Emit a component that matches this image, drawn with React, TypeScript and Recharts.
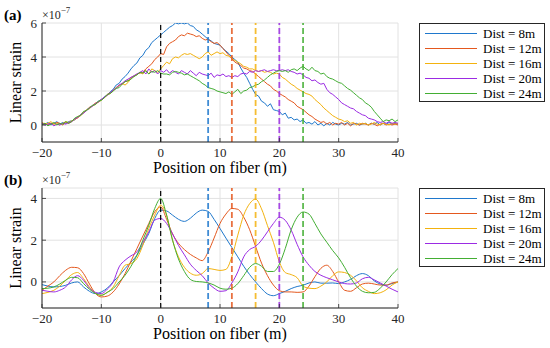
import React from "react";
import { LineChart, Line, XAxis, YAxis, CartesianGrid, ReferenceLine, Legend, Label } from "recharts";

// Strain profiles along the fiber for five load positions.
// (a) measured (noisy) profiles, (b) reconstructed profiles. Values in units of 1e-7.

const FONT = '"Liberation Serif", "Times New Roman", serif';
const AX = "#262626";
const GRID = "#e2e2e2";

const SERIES_NAMES = ["Dist = 8m", "Dist = 12m", "Dist = 16m", "Dist = 20m", "Dist = 24m"];
const SERIES_KEYS = ["d8", "d12", "d16", "d20", "d24"];
const SERIES_COLORS = ["#1f78cc", "#e4581e", "#f3b20e", "#9b2be3", "#43ae33"];
const DIST_MARKS = [8, 12, 16, 20, 24];
const X_TICKS = [-20, -10, 0, 10, 20, 30, 40];
const Y_TICKS_A = [0, 2, 4, 6];
const Y_TICKS_B = [0, 2, 4];

// (a) sampled every 0.5 m from -20 m
const TOP_START = -20;
const TOP_STEP = 0.5;
const topD8 = [
  0.1, 0.05, 0.15, 0.0, 0.1, 0.2, 0.05, 0.15, 0.1, 0.2,
  0.25, 0.3, 0.45, 0.6, 0.7, 0.9, 1.0, 1.15, 1.25, 1.4,
  1.5, 1.65, 1.75, 1.95, 2.1, 2.35, 2.45, 2.7, 2.85, 3.05,
  3.3, 3.5, 3.65, 3.95, 4.1, 4.4, 4.55, 4.85, 5.0, 5.15,
  5.3, 5.45, 5.6, 5.75, 5.85, 6.0, 5.95, 6.0, 5.95, 6.0,
  5.85, 5.8, 5.6, 5.5, 5.35, 5.2, 5.05, 4.95, 4.8, 4.75,
  4.7, 4.5, 4.35, 4.2, 4.0, 3.85, 3.7, 3.35, 3.05, 2.8,
  2.45, 2.1, 1.8, 1.7, 1.4, 1.3, 1.1, 1.25, 0.9, 0.85,
  0.8, 0.6, 0.7, 0.4, 0.45, 0.3, 0.35, 0.2, 0.3, 0.1,
  0.15, 0.05, 0.2, 0.0, 0.1, -0.05, 0.1, 0.0, 0.15, 0.05,
  0.0, 0.1, 0.05, 0.15, 0.0, 0.05, 0.1, 0.0, 0.05, 0.1,
  0.0, 0.1, 0.05, 0.15, 0.0, 0.1, 0.05, 0.15, 0.05, 0.1,
  0.05,
];
const topD12 = [
  0.05, 0.1, 0.0, 0.1, 0.05, 0.15, 0.1, 0.0, 0.15, 0.1,
  0.2, 0.35, 0.4, 0.6, 0.75, 0.85, 1.05, 1.1, 1.3, 1.35,
  1.5, 1.6, 1.8, 1.9, 2.05, 2.2, 2.35, 2.4, 2.55, 2.6,
  2.8, 2.85, 3.0, 3.05, 3.1, 3.3, 3.45, 3.6, 3.85, 4.0,
  4.2, 4.15, 4.6, 4.8, 4.9, 5.0, 5.2, 5.3, 5.25, 5.4,
  5.35, 5.3, 5.2, 5.25, 5.1, 5.0, 5.05, 4.9, 4.8, 4.85,
  4.7, 4.5, 4.3, 4.1, 3.9, 3.7, 3.6, 3.5, 3.35, 3.3,
  3.2, 3.15, 3.0, 2.85, 2.7, 2.55, 2.4, 2.3, 2.1, 2.0,
  1.85, 1.75, 1.65, 1.5, 1.4, 1.3, 1.1, 1.0, 0.9, 0.75,
  0.6, 0.5, 0.35, 0.25, 0.15, 0.2, 0.05, 0.15, 0.0, 0.1,
  0.05, 0.15, 0.0, 0.1, -0.05, 0.1, 0.05, 0.0, 0.1, 0.05,
  0.0, 0.1, 0.05, -0.05, 0.05, 0.1, 0.0, 0.05, 0.0, 0.05,
  0.0,
];
const topD16 = [
  0.15, 0.05, 0.1, 0.2, 0.05, 0.1, 0.0, 0.1, 0.2, 0.15,
  0.25, 0.3, 0.5, 0.55, 0.7, 0.9, 0.95, 1.15, 1.2, 1.35,
  1.45, 1.6, 1.75, 1.85, 2.0, 2.2, 2.3, 2.45, 2.35, 2.5,
  2.75, 2.9, 2.95, 3.1, 3.0, 3.2, 3.0, 3.3, 3.2, 3.1,
  3.3, 3.5, 3.7, 3.6, 3.9, 4.0, 3.95, 4.1, 4.2, 4.15,
  4.2, 4.1, 4.0, 3.9, 4.0, 4.2, 4.3, 4.1, 4.2, 4.3,
  4.2, 4.25, 4.1, 4.05, 3.9, 3.8, 3.7, 3.6, 3.45, 3.4,
  3.3, 3.3, 3.2, 3.15, 3.2, 3.1, 3.15, 3.1, 3.0, 3.05,
  3.0, 2.8, 2.7, 2.55, 2.4, 2.3, 2.15, 2.05, 1.95, 1.85,
  1.8, 1.7, 1.5, 1.35, 1.2, 1.0, 0.85, 0.7, 0.55, 0.45,
  0.35, 0.3, 0.2, 0.25, 0.1, 0.15, 0.0, 0.1, 0.05, 0.1,
  0.0, 0.05, 0.15, 0.05, 0.0, 0.1, 0.05, 0.0, 0.1, 0.05,
  0.1,
];
const topD20 = [
  0.1, 0.0, 0.05, 0.1, -0.05, 0.05, 0.0, 0.1, 0.05, 0.15,
  0.2, 0.35, 0.45, 0.6, 0.7, 0.85, 1.0, 1.1, 1.25, 1.35,
  1.5, 1.65, 1.75, 1.9, 2.05, 2.15, 2.35, 2.45, 2.6, 2.7,
  2.8, 2.9, 3.0, 3.1, 3.2, 3.0, 3.3, 3.1, 3.2, 3.0,
  3.2, 3.1, 3.25, 3.05, 3.2, 3.1, 3.0, 3.2, 3.1, 3.0,
  3.2, 3.05, 2.9, 3.1, 3.0, 2.95, 2.9, 3.05, 2.8, 2.95,
  2.9, 3.0, 2.85, 2.9, 2.8, 2.9, 2.85, 3.0, 3.05, 3.0,
  3.15, 3.1, 3.2, 3.15, 3.2, 3.25, 3.15, 3.2, 3.25, 3.2,
  3.2, 3.25, 3.2, 3.25, 3.15, 3.1, 3.0, 3.05, 2.95, 2.8,
  2.75, 2.6, 2.65, 2.5, 2.4, 2.45, 2.1, 1.9, 1.8, 1.65,
  1.5, 1.3, 1.2, 1.1, 1.0, 0.95, 0.8, 0.7, 0.6, 0.55,
  0.4, 0.35, 0.3, 0.2, 0.15, 0.2, 0.1, 0.2, 0.1, 0.15,
  0.1,
];
const topD24 = [
  0.0, 0.1, -0.05, 0.05, 0.15, 0.0, 0.1, 0.05, 0.2, 0.1,
  0.2, 0.4, 0.5, 0.55, 0.8, 0.85, 1.0, 1.15, 1.2, 1.4,
  1.45, 1.6, 1.8, 1.85, 2.0, 2.15, 2.2, 2.4, 2.55, 2.6,
  2.7, 2.85, 2.95, 3.1, 3.05, 3.2, 3.0, 3.15, 3.1, 3.2,
  3.05, 3.0, 3.0, 2.95, 3.1, 3.15, 3.1, 3.05, 2.95, 3.0,
  2.9, 2.8, 2.7, 2.6, 2.45, 2.35, 2.2, 2.15, 2.1, 2.0,
  1.95, 1.9, 1.85, 1.95, 1.8, 1.95, 2.1, 1.85, 2.0, 2.05,
  2.2, 2.25, 2.35, 2.4, 2.55, 2.65, 2.8, 2.95, 3.05, 3.15,
  3.2, 3.15, 3.2, 3.1, 3.25, 3.3, 3.2, 3.35, 3.45, 3.3,
  3.2, 3.4, 3.2, 3.15, 3.0, 3.05, 2.85, 2.75, 2.7, 2.6,
  2.5, 2.45, 2.3, 2.15, 2.05, 1.9, 1.75, 1.6, 1.5, 1.3,
  1.2, 1.05, 0.8, 0.6, 0.4, 0.2, 0.3, 0.25, 0.35, 0.2,
  0.3,
];

// (b) sampled every 1 m from -20 m
const BOT_START = -20;
const BOT_STEP = 1;
const botD8 = [
  -0.13, -0.2, -0.24, -0.22, -0.16, -0.05, 0.0, -0.24, -0.45, -0.56,
  -0.48, -0.3, 0.0, 0.3, 0.64, 0.95, 1.28, 1.8, 2.32, 3.04,
  3.44, 3.4, 3.2, 3.0, 2.9, 3.05, 3.3, 3.44, 3.38, 3.0,
  2.56, 2.1, 1.65, 1.2, 0.75, 0.35, 0.0, -0.32, -0.58, -0.66,
  -0.56, -0.45, -0.32, -0.22, -0.16, -0.05, 0.0, -0.06, -0.06, -0.05,
  -0.08, 0.0, 0.12, 0.3, 0.4, 0.3, 0.05, -0.1, -0.16, -0.08,
  0.0,
];
const botD12 = [
  -0.4, -0.2, 0.0, 0.3, 0.56, 0.7, 0.68, 0.4, -0.1, -0.55,
  -0.72, -0.68, -0.48, -0.1, 0.4, 1.0, 1.6, 2.2, 2.8, 3.36,
  3.6, 3.0, 2.3, 1.85, 1.55, 1.32, 1.15, 1.02, 1.44, 2.1,
  2.8, 3.25, 3.52, 3.48, 3.1, 2.5, 1.7, 0.9, 0.3, -0.15,
  -0.42, -0.48, -0.48, -0.5, -0.48, -0.2, 0.25, 0.65, 0.8, 0.5,
  0.0, -0.4, -0.45, -0.28, -0.1, -0.06, -0.1, -0.15, -0.15, -0.05,
  0.0,
];
const botD16 = [
  -0.56, -0.5, -0.4, -0.2, 0.08, 0.35, 0.45, 0.16, -0.25, -0.55,
  -0.64, -0.5, -0.24, 0.3, 0.8, 0.88, 1.12, 1.76, 2.56, 3.2,
  3.68, 3.2, 2.0, 1.2, 0.7, 0.42, 0.32, 0.4, 0.64, 0.6,
  0.55, 0.6, 1.2, 2.24, 3.2, 3.75, 3.97, 3.5, 2.7, 1.9,
  0.96, 0.45, 0.35, 0.2, -0.2, -0.3, -0.32, -0.2, 0.0, 0.3,
  0.48, 0.45, 0.32, 0.05, -0.28, -0.45, -0.56, -0.52, -0.38, -0.15,
  0.0,
];
const botD20 = [
  -0.4, -0.45, -0.48, -0.4, -0.24, 0.1, 0.3, 0.08, -0.3, -0.5,
  -0.56, -0.35, 0.0, 0.72, 1.04, 1.25, 1.44, 1.9, 2.4, 2.96,
  3.04, 2.8, 2.3, 1.75, 1.3, 0.85, 0.55, 0.3, -0.05, -0.3,
  -0.45, -0.42, -0.05, 0.48, 1.2, 1.55, 1.7, 2.0, 2.4, 2.8,
  3.1, 2.95, 2.48, 1.8, 1.2, 0.8, 0.5, 0.32, 0.2, 0.1,
  0.0, -0.08, -0.1, -0.05, 0.15, 0.22, 0.1, -0.05, -0.2, -0.35,
  -0.48,
];
const botD24 = [
  -0.32, -0.3, -0.24, -0.1, 0.08, 0.22, 0.2, -0.08, -0.35, -0.55,
  -0.64, -0.5, -0.32, 0.0, 0.32, 0.75, 1.28, 2.0, 2.72, 3.52,
  4.0, 3.2, 2.0, 1.1, 0.5, 0.12, 0.02, 0.0, -0.05, -0.15,
  -0.3, -0.35, -0.3, -0.08, 0.3, 0.7, 0.88, 0.75, 0.5, 0.5,
  0.85, 1.6, 2.5, 3.1, 3.35, 3.25, 2.8, 2.3, 1.9, 1.5,
  1.15, 0.7, 0.2, -0.2, -0.45, -0.52, -0.5, -0.3, 0.0, 0.35,
  0.64,
];

function buildRows(start: number, step: number, series: number[][]) {
  return series[0].map((_, i) => {
    const row: Record<string, number> = { pos: start + i * step };
    SERIES_KEYS.forEach((k, s) => {
      row[k] = series[s][i];
    });
    return row;
  });
}

const topData = buildRows(TOP_START, TOP_STEP, [topD8, topD12, topD16, topD20, topD24]);
const botData = buildRows(BOT_START, BOT_STEP, [botD8, botD12, botD16, botD20, botD24]);

const fmtTick = (v: number) => (v < 0 ? `\u2212${Math.abs(v)}` : `${v}`);

function BottomTick({ x, y, payload }: any) {
  return (
    <g>
      <line x1={x} x2={x} y1={y} y2={y - 4} stroke={AX} strokeWidth={0.8} />
      <text x={x} y={y + 15} textAnchor="middle" fontSize={13} fill={AX} fontFamily={FONT}>
        {fmtTick(payload.value)}
      </text>
    </g>
  );
}

function TopTick({ x, y }: any) {
  return <line x1={x} x2={x} y1={y} y2={y + 4} stroke={AX} strokeWidth={0.8} />;
}

function LeftTick({ x, y, payload }: any) {
  return (
    <g>
      <line x1={x} x2={x + 4} y1={y} y2={y} stroke={AX} strokeWidth={0.8} />
      <text x={x - 5} y={y + 4.5} textAnchor="end" fontSize={13} fill={AX} fontFamily={FONT}>
        {fmtTick(payload.value)}
      </text>
    </g>
  );
}

function RightTick({ x, y }: any) {
  return <line x1={x} x2={x - 4} y1={y} y2={y} stroke={AX} strokeWidth={0.8} />;
}

function LegendBox({ payload }: any) {
  const items = [...(payload ?? [])].sort(
    (a: any, b: any) => SERIES_NAMES.indexOf(a.value) - SERIES_NAMES.indexOf(b.value)
  );
  return (
    <div
      style={{
        border: `1px solid ${AX}`,
        background: "#fff",
        width: 126,
        height: 79,
        boxSizing: "border-box",
        padding: "2px 0",
        fontFamily: FONT,
        fontSize: 13,
        color: "#000",
      }}
    >
      {items.map((p: any) => (
        <div key={p.value} style={{ display: "flex", alignItems: "center", height: 15 }}>
          <svg width={63} height={15} style={{ flex: "none" }}>
            <line x1={5} x2={57} y1={7.5} y2={7.5} stroke={p.color} strokeWidth={1.2} />
          </svg>
          <span style={{ whiteSpace: "nowrap", lineHeight: "15px" }}>{p.value}</span>
        </div>
      ))}
    </div>
  );
}

interface PanelProps {
  data: Record<string, number>[];
  tag: string;
  yDomain: [number, number];
  yTicks: number[];
  top: number;
  height: number;
  marginTop: number;
  marginBottom: number;
  curve: "linear" | "monotone";
}

function Panel({ data, tag, yDomain, yTicks, top, height, marginTop, marginBottom, curve }: PanelProps) {
  const yTitle = (props: any) => {
    const { x, y, width: w, height: h } = props.viewBox;
    const cx = 15;
    const cy = y + h / 2;
    return (
      <g fontFamily={FONT}>
        <text
          x={cx}
          y={cy}
          transform={`rotate(-90 ${cx} ${cy})`}
          textAnchor="middle"
          dominantBaseline="central"
          fontSize={16}
          fill="#000"
        >
          Linear strain
        </text>
        <text x={4} y={y - 3} fontSize={15} fontWeight="bold" fill="#000">
          {tag}
        </text>
        <text x={x + w} y={y - 4} fontSize={12} fill={AX}>
          ×10
          <tspan dy={-6} fontSize={9}>
            −7
          </tspan>
        </text>
      </g>
    );
  };

  const xTitle = (props: any) => {
    const { x, y, width: w } = props.viewBox;
    return (
      <text x={x + w / 2} y={y + 31} textAnchor="middle" fontSize={16} fill="#000" fontFamily={FONT}>
        Position on fiber (m)
      </text>
    );
  };

  return (
    <div style={{ position: "absolute", left: 0, top }}>
      <LineChart
        width={550}
        height={height}
        data={data}
        margin={{ top: marginTop, right: 152, bottom: marginBottom, left: 12 }}
      >
        <CartesianGrid stroke={GRID} strokeWidth={1} />
        <XAxis
          dataKey="pos"
          type="number"
          domain={[-20, 40]}
          ticks={X_TICKS}
          interval={0}
          allowDataOverflow
          height={20}
          tickSize={0}
          tickMargin={0}
          tickLine={false}
          tick={<BottomTick />}
          stroke={AX}
        >
          <Label content={xTitle} />
        </XAxis>
        <XAxis
          xAxisId="top"
          orientation="top"
          dataKey="pos"
          type="number"
          domain={[-20, 40]}
          ticks={X_TICKS}
          interval={0}
          allowDataOverflow
          height={0}
          tickSize={0}
          tickMargin={0}
          tickLine={false}
          tick={<TopTick />}
          stroke={AX}
        />
        <YAxis
          type="number"
          domain={yDomain}
          ticks={yTicks}
          interval={0}
          allowDataOverflow
          width={30}
          tickSize={0}
          tickMargin={0}
          tickLine={false}
          tick={<LeftTick />}
          stroke={AX}
        >
          <Label content={yTitle} />
        </YAxis>
        <YAxis
          yAxisId="right"
          orientation="right"
          type="number"
          domain={yDomain}
          ticks={yTicks}
          interval={0}
          allowDataOverflow
          width={0}
          tickSize={0}
          tickMargin={0}
          tickLine={false}
          tick={<RightTick />}
          stroke={AX}
        />
        <Legend
          layout="vertical"
          align="center"
          verticalAlign="middle"
          content={<LegendBox />}
          wrapperStyle={{ left: 419, top: marginTop, width: 126, height: 79 }}
        />
        {SERIES_KEYS.map((k, i) => (
          <Line
            key={k}
            type={curve}
            dataKey={k}
            name={SERIES_NAMES[i]}
            stroke={SERIES_COLORS[i]}
            strokeWidth={1}
            dot={false}
            activeDot={false}
            isAnimationActive={false}
          />
        ))}
        <ReferenceLine x={0} stroke="#000" strokeWidth={1.2} strokeDasharray="5 3" />
        {DIST_MARKS.map((d, i) => (
          <ReferenceLine
            key={d}
            x={d}
            stroke={SERIES_COLORS[i]}
            strokeOpacity={0.85}
            strokeWidth={1.8}
            strokeDasharray="6 3"
          />
        ))}
      </LineChart>
    </div>
  );
}

export default function App() {
  return (
    <div
      style={{
        position: "absolute",
        left: 0,
        top: 0,
        width: 550,
        height: 348,
        background: "#fff",
        overflow: "hidden",
      }}
    >
      <Panel
        data={topData}
        tag="(a)"
        yDomain={[-1, 6]}
        yTicks={Y_TICKS_A}
        top={0}
        height={180}
        marginTop={23}
        marginBottom={18}
        curve="linear"
      />
      <Panel
        data={botData}
        tag="(b)"
        yDomain={[-1.25, 4.5]}
        yTicks={Y_TICKS_B}
        top={160}
        height={188}
        marginTop={28}
        marginBottom={20}
        curve="monotone"
      />
    </div>
  );
}
